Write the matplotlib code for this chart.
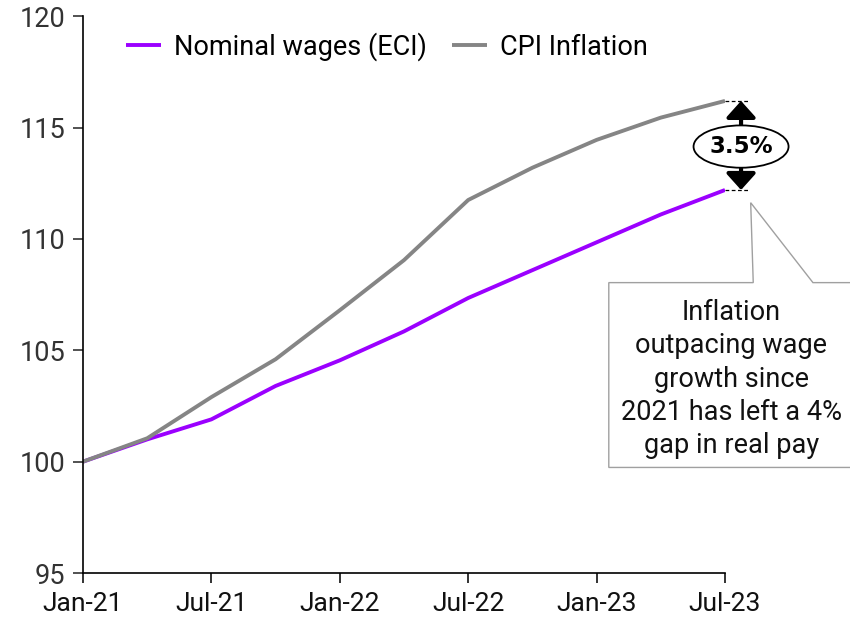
import numpy as np
import matplotlib
matplotlib.use("Agg")
import matplotlib.pyplot as plt
from matplotlib.patches import Ellipse, Polygon

# quarterly index levels, Jan-21 = 100
quarters = ["Jan-21", "Apr-21", "Jul-21", "Oct-21", "Jan-22", "Apr-22",
            "Jul-22", "Oct-22", "Jan-23", "Apr-23", "Jul-23"]
wages = [100.0, 101.0, 101.9, 103.4, 104.55, 105.85, 107.35, 108.6, 109.85, 111.1, 112.2]
cpi = [100.0, 101.05, 102.9, 104.6, 106.8, 109.05, 111.75, 113.2, 114.45, 115.45, 116.2]
series_names = ["Nominal wages (ECI)", "CPI Inflation"]
gap_label = "3.5%"
note_text = "Inflation\noutpacing wage\ngrowth since\n2021 has left a 4%\ngap in real pay"

purple = "#9B00FF"
grey = "#858585"

plt.rcParams['font.family'] = ['Roboto', 'DejaVu Sans']

fig = plt.figure(figsize=(8.5, 6.21), dpi=100)
ax = fig.add_axes([83 / 850, 1 - 573 / 621, (725 - 83) / 850, (573 - 16.3) / 621])

x = np.arange(len(quarters))
ax.plot(x, wages, color=purple, lw=2.8, label=series_names[0], solid_capstyle='butt')
ax.plot(x, cpi, color=grey, lw=2.8, label=series_names[1], solid_capstyle='butt')

ax.set_xlim(0, len(quarters) - 1)
ax.set_ylim(95, 120)
ax.set_yticks(np.arange(95, 121, 5))
ax.set_xticks(x[::2])
ax.set_xticklabels(quarters[::2])

for s in ['top', 'right']:
    ax.spines[s].set_visible(False)
for s in ['left', 'bottom']:
    ax.spines[s].set_linewidth(1.2)
ax.tick_params(axis='both', length=7, width=1.2)
ax.tick_params(axis='x', pad=7, labelsize=19, colors='#111111')
ax.tick_params(axis='y', pad=6, labelsize=19.5, colors='#333333')

leg = ax.legend(loc='upper left', bbox_to_anchor=(0.042, 1.0), ncol=2, frameon=False,
                fontsize=19.5, handlelength=1.3, handletextpad=0.45, columnspacing=0.95,
                borderaxespad=0.2)

# gap annotation at the last point
xe = x[-1]
xa = xe + 0.25
for yv in (cpi[-1], wages[-1]):
    ax.plot([xe, xe + 0.37], [yv, yv], color='black', lw=0.9, ls=(0, (3, 2)), clip_on=False)

ymid = (cpi[-1] + wages[-1]) / 2 - 0.05
ell = Ellipse((xa, ymid), 1.48, 1.9, facecolor='white', edgecolor='black', lw=1.3,
              clip_on=False, zorder=5)
ax.add_patch(ell)
ax.text(xa, ymid, gap_label, ha='center', va='center', fontsize=16.5, fontweight='bold',
        zorder=6, family='DejaVu Sans')
arrow_kw = dict(arrowstyle='-|>,head_width=0.45,head_length=0.5', color='black', lw=3,
                mutation_scale=20, shrinkA=0, shrinkB=0)
ax.annotate('', xy=(xa, cpi[-1]), xytext=(xa, ymid + 0.95), arrowprops=arrow_kw,
            annotation_clip=False)
ax.annotate('', xy=(xa, wages[-1]), xytext=(xa, ymid - 0.95), arrowprops=arrow_kw,
            annotation_clip=False)

# callout box
box = Polygon([(8.19, 108.04), (10.44, 108.04), (10.40, 111.63), (11.37, 108.04),
               (12.2, 108.04), (12.2, 99.74), (8.19, 99.74)],
              closed=True, facecolor='white', edgecolor='#a0a0a0', lw=1.0,
              clip_on=False, zorder=3)
ax.add_patch(box)
ax.text(10.1, 103.7, note_text, ha='center', va='center', fontsize=19.5,
        linespacing=1.3, color='#111111', zorder=4)

fig.savefig("out.png", dpi=100)
